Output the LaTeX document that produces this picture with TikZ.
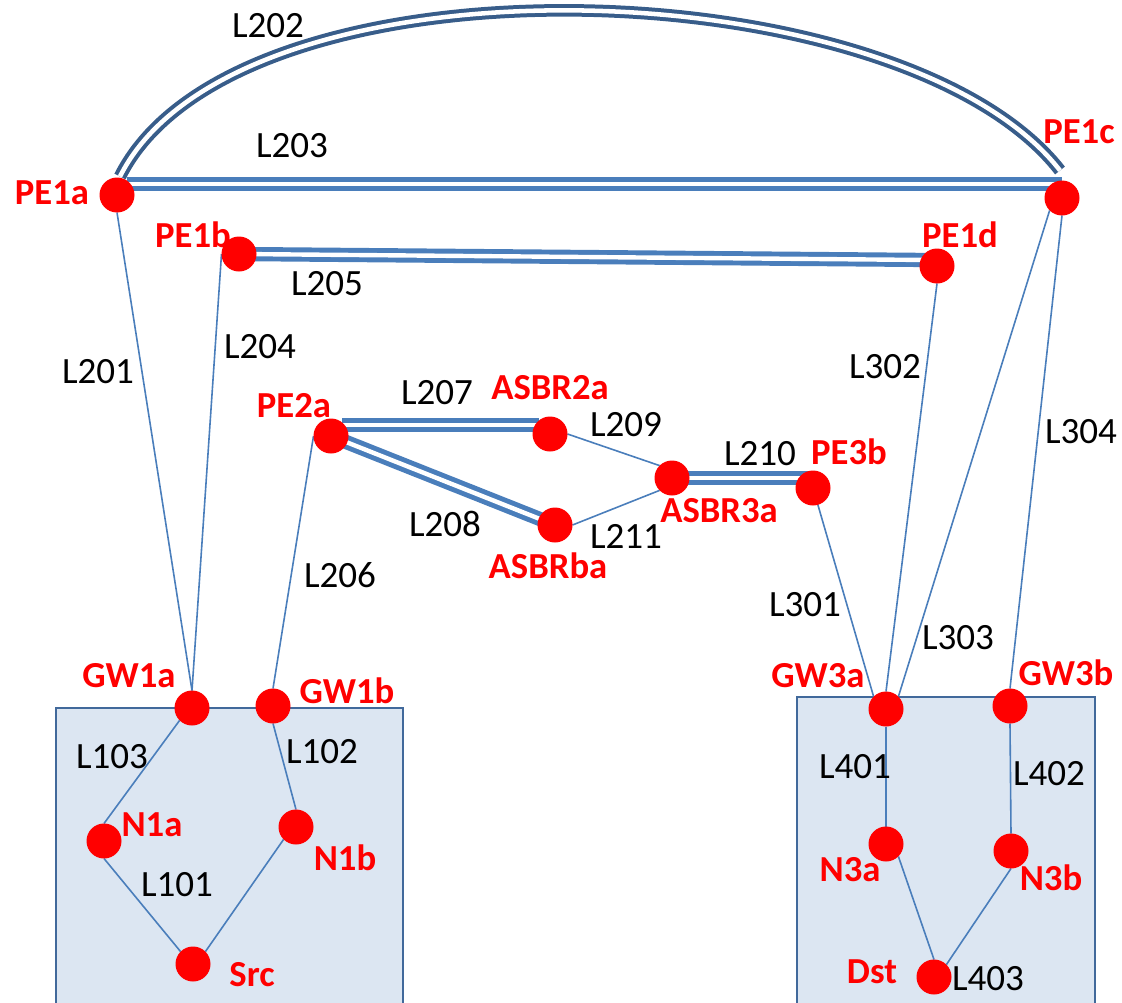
\documentclass[tikz,border=0pt]{standalone}
\usepackage{fontspec}
\setmainfont{Carlito}
\usetikzlibrary{calc}
\pgfdeclarelayer{bg}
\pgfsetlayers{bg,main}
\definecolor{linkblue}{RGB}{74,126,187}
\definecolor{arcblue}{RGB}{56,93,138}
\definecolor{boxfill}{RGB}{220,230,242}
\definecolor{boxline}{RGB}{65,105,155}
\definecolor{nodered}{RGB}{255,0,0}
\begin{document}
\begin{tikzpicture}[x=0.75pt,y=-0.75pt,
  router/.style={circle,fill=nodered,minimum size=26.25pt,inner sep=0pt,outer sep=0pt},
  tag/.style={text=nodered,font=\fontsize{27.5}{32}\selectfont\bfseries,inner sep=0pt},
  lab/.style={text=black,font=\fontsize{27.8}{32}\selectfont,inner sep=0pt},
  link/.style={draw=linkblue,line width=1.2pt},
  trunk/.style={draw=linkblue,double=white,line width=3.7pt,double distance=3.3pt},
  bigarc/.style={draw=arcblue,double=white,line width=3pt,double distance=3.4pt},
  region/.style={draw=boxline,fill=boxfill,line width=1.1pt}]
\useasboundingbox (0,0) rectangle (1122,1003);

% routers
\node[router] (PE1a) at (117,195) {};
\node[router] (PE1b) at (239,254) {};
\node[router] (PE1c) at (1062,198) {};
\node[router] (PE1d) at (937,266) {};
\node[router] (PE2a) at (331,436) {};
\node[router] (ASBR2a) at (550,434) {};
\node[router] (ASBR3a) at (672,478) {};
\node[router] (ASBRba) at (555,525) {};
\node[router] (PE3b) at (813,488) {};
\node[router] (GW1a) at (192,708) {};
\node[router] (GW1b) at (273,706) {};
\node[router] (N1a) at (104,841) {};
\node[router] (N1b) at (296,827) {};
\node[router] (Src) at (193,964) {};
\node[router] (GW3a) at (886,709) {};
\node[router] (GW3b) at (1010,706) {};
\node[router] (N3a) at (886,844) {};
\node[router] (N3b) at (1011,851) {};
\node[router] (Dst) at (934,977) {};

\begin{pgfonlayer}{bg}
  \path[region] (56,708) rectangle (403,1012);
  \path[region] (797,697) rectangle (1095,1012);
  % thin links
  \path[link] (GW1a.north) -- (PE1a.south);
  \path[link] (GW1a.north) -- (PE1b.west);
  \path[link] (GW1b.north) -- (PE2a.west);
  \path[link] (ASBR2a.east) -- (ASBR3a.north west);
  \path[link] (ASBRba.east) -- (ASBR3a.south west);
  \path[link] (PE3b.center) -- (GW3a.north west);
  \path[link] (GW3a.north) -- (PE1d.south);
  \path[link] (GW3a.north east) -- (PE1c.south west);
  \path[link] (GW3b.north) -- (PE1c.south);
  \path[link] (GW3a.south) -- (N3a.north);
  \path[link] (GW3b.south) -- (N3b.north);
  \path[link] (N3a.south east) -- (Dst.north);
  \path[link] (N3b.south) -- (Dst.north east);
  \path[link] (GW1a.south west) -- (N1a.north);
  \path[link] (N1a.south) -- (Src.north west);
  \path[link] (GW1b.south) -- (N1b.north);
  \path[link] (N1b.south west) -- (Src.north east);
  % double links
  \path[trunk] ([shift={(10,-11)}]PE1a.center) -- ([shift={(0,-14)}]PE1c.center);
  \path[trunk] (PE1b.center) -- ([shift={(-8,-6)}]PE1d.center);
  \path[trunk] ([shift={(11,-11)}]PE2a.center) -- ([shift={(-11,-9)}]ASBR2a.center);
  \path[trunk] (PE2a.center) -- (ASBRba.center);
  \path[trunk] (ASBR3a.center) -- ([shift={(0,-10)}]PE3b.center);
  \path[bigarc] ([shift={(3,-1)}]PE1a.north) .. controls +(115,-230) and +(-160,-205) .. ([shift={(-2,-10)}]PE1c.north);
\end{pgfonlayer}

% node names
\node[tag] (tPE1a) at (52,193) {PE1a};
\node[tag] (tPE1b) at (193,235) {PE1b};
\node[tag] (tPE1c) at (1079,132) {PE1c};
\node[tag] (tPE1d) at (960,235) {PE1d};
\node[tag] (tPE2a) at (294,406) {PE2a};
\node[tag] (tASBR2a) at (550,388) {ASBR2a};
\node[tag] (tASBR3a) at (719,511) {ASBR3a};
\node[tag] (tASBRba) at (548,566) {ASBRba};
\node[tag] (tPE3b) at (849,452) {PE3b};
\node[tag] (tGW1a) at (129,676) {GW1a};
\node[tag] (tGW1b) at (347,691) {GW1b};
\node[tag] (tN1a) at (152,825) {N1a};
\node[tag] (tN1b) at (345,858) {N1b};
\node[tag] (tSrc) at (252,975) {Src};
\node[tag] (tGW3a) at (818,676) {GW3a};
\node[tag] (tGW3b) at (1066,673) {GW3b};
\node[tag] (tN3a) at (850,870) {N3a};
\node[tag] (tN3b) at (1051,878) {N3b};
\node[tag] (tDst) at (872,972) {Dst};

% link labels
\node[lab] (l202) at (268,26) {L202};
\node[lab] (l203) at (292,146) {L203};
\node[lab] (l205) at (327,284) {L205};
\node[lab] (l201) at (98,372) {L201};
\node[lab] (l204) at (260,347) {L204};
\node[lab] (l207) at (437,393) {L207};
\node[lab] (l209) at (626,425) {L209};
\node[lab] (l208) at (445,524) {L208};
\node[lab] (l211) at (626,536) {L211};
\node[lab] (l210) at (760,454) {L210};
\node[lab] (l206) at (340,575) {L206};
\node[lab] (l302) at (885,367) {L302};
\node[lab] (l304) at (1081,432) {L304};
\node[lab] (l301) at (805,605) {L301};
\node[lab] (l303) at (958,638) {L303};
\node[lab] (l103) at (112,757) {L103};
\node[lab] (l102) at (322,752) {L102};
\node[lab] (l101) at (177,885) {L101};
\node[lab] (l401) at (855,767) {L401};
\node[lab] (l402) at (1049,774) {L402};
\node[lab] (l403) at (988,979) {L403};
\end{tikzpicture}
\end{document}
